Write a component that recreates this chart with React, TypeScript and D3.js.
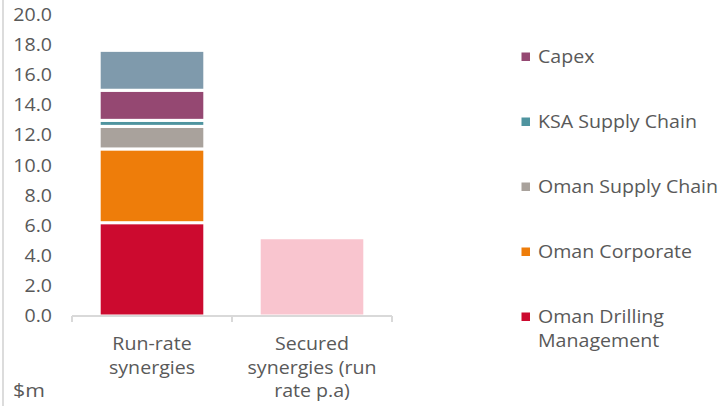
import React from "react";
import * as d3 from "d3";

const categories = ["Run-rate synergies", "Secured synergies (run rate p.a)"];
const categoryLines = [["Run-rate", "synergies"], ["Secured", "synergies (run", "rate p.a)"]];
const seriesNames = ["Oman Drilling Management", "Oman Corporate", "Oman Supply Chain", "KSA Supply Chain", "Capex", "Other"];
const seriesColors = ["#CC0A2F", "#EE7D0A", "#A9A29C", "#4F949F", "#954872", "#7F9AAC"];
const runRateValues = [6.2, 4.9, 1.5, 0.4, 2.0, 2.65];
const securedValue = 5.2;
const securedColor = "#F9C5CF";
const legendNames = ["Capex", "KSA Supply Chain", "Oman Supply Chain", "Oman Corporate", "Oman Drilling Management"];
const legendLines = [["Capex"], ["KSA Supply Chain"], ["Oman Supply Chain"], ["Oman Corporate"], ["Oman Drilling", "Management"]];
const yTicks = [0, 2, 4, 6, 8, 10, 12, 14, 16, 18, 20];
const unitLabel = "$m";

const W = 719, H = 406;
const FONT = "'Open Sans', sans-serif";
const TEXT = "#595959";
const SX = 1.12;

function SText(props: { x: number; y: number; anchor?: string; size?: number; children: React.ReactNode }) {
  const { x, y, anchor = "start", size = 17.5, children } = props;
  return (
    <g transform={`translate(${x},${y}) scale(${SX},1)`}>
      <text x={0} y={0} textAnchor={anchor as any} fontFamily={FONT} fontSize={size} fill={TEXT}>
        {children}
      </text>
    </g>
  );
}

export default function App() {
  const y = d3.scaleLinear().domain([0, 20]).range([316, 15]);
  const x = d3.scaleBand().domain(categories).range([72, 392]).padding(0);
  const bw = x.bandwidth() * 0.66;
  const fmt = d3.format(".1f");
  const sw = 3;

  let acc = 0;
  const segs = runRateValues.map((v, i) => {
    const s = { y0: acc, y1: acc + v, color: seriesColors[i], name: seriesNames[i] };
    acc += v;
    return s;
  });

  const bx0 = (x(categories[0]) as number) + (x.bandwidth() - bw) / 2;
  const bx1 = (x(categories[1]) as number) + (x.bandwidth() - bw) / 2;

  return (
    <svg width={W} height={H} style={{ position: "absolute", left: 0, top: 0, background: "#fff" }}>
      <line x1={3} x2={3} y1={0} y2={H} stroke="#DCDCDC" strokeWidth={2} />
      {yTicks.map((t) => (
        <SText key={t} x={52} y={y(t) + 6} anchor="end">{fmt(t)}</SText>
      ))}
      {segs.map((s, i) => (
        <rect key={i} x={bx0} y={y(s.y1)} width={bw} height={y(s.y0) - y(s.y1)} fill={s.color} stroke="#fff" strokeWidth={sw} />
      ))}
      <rect x={bx1} y={y(securedValue)} width={bw} height={y(0) - y(securedValue)} fill={securedColor} stroke="#fff" strokeWidth={sw} />
      <line x1={72} x2={392} y1={316} y2={316} stroke="#D9D9D9" strokeWidth={2} />
      {[72, ...categories.map((c) => (x(c) as number) + x.bandwidth())].map((tx, i) => (
        <line key={i} x1={tx} x2={tx} y1={316} y2={322} stroke="#D9D9D9" strokeWidth={2} />
      ))}
      {categories.map((c, ci) =>
        categoryLines[ci].map((l, li) => (
          <SText key={c + li} x={(x(c) as number) + x.bandwidth() / 2} y={350 + li * 23.5} anchor="middle">{l}</SText>
        ))
      )}
      <SText x={13} y={397} size={19}>{unitLabel}</SText>
      {legendNames.map((n, i) => {
        const si = seriesNames.indexOf(n);
        const cy = 57 + i * 65;
        return (
          <g key={n}>
            <rect x={521.5} y={cy - 4.5} width={8.5} height={8.5} fill={seriesColors[si]} />
            {legendLines[i].map((l, li) => (
              <SText key={li} x={538} y={cy + 6 + li * 23.5}>{l}</SText>
            ))}
          </g>
        );
      })}
    </svg>
  );
}
